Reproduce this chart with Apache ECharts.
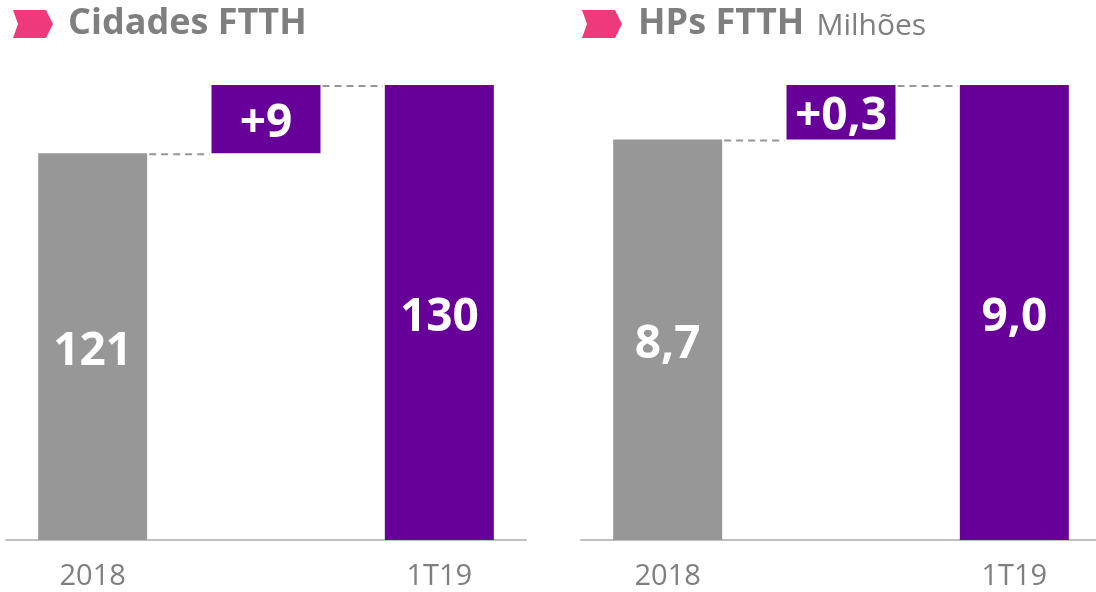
<!DOCTYPE html>
<html>
<head>
<meta charset="utf-8">
<script src="https://cdn.jsdelivr.net/npm/echarts@6/dist/echarts.min.js"></script>
<style>
html,body{margin:0;padding:0;background:#fff;}
#c{width:1096px;height:592px;}
</style>
</head>
<body>
<div id="c"></div>
<script>
// ---- data ----
const categories = ['2018', '', '1T19'];
const leftTitle = 'Cidades FTTH';
const leftValues = [121, 9, 130];      // start, delta, end
const rightTitle = 'HPs FTTH';
const rightUnit = 'Milhões';
const rightValues = [8.7, 0.3, 9.0];   // start, delta, end

const GRAY = '#979797', PURPLE = '#660099', PINK = '#EE3A7B', TEXT = '#7F7F7F';
const FONT = '"Open Sans", "Noto Sans", sans-serif';
const BAR_W = 109;

function fmt(v, dec) { return v.toFixed(dec).replace('.', ','); }

function buildSeries(idx, vals, dec) {
  const [start, delta, end] = vals;
  return [
    {
      type: 'bar', xAxisIndex: idx, yAxisIndex: idx, stack: 'w' + idx,
      barWidth: BAR_W, silent: true,
      data: ['-', start, '-'],
      itemStyle: { color: 'transparent' }
    },
    {
      type: 'bar', xAxisIndex: idx, yAxisIndex: idx, stack: 'w' + idx,
      barWidth: BAR_W, z: 3,
      data: [
        { value: start, itemStyle: { color: GRAY } },
        { value: delta, itemStyle: { color: PURPLE } },
        { value: end, itemStyle: { color: PURPLE } }
      ],
      label: {
        show: true, position: 'inside', color: '#fff', fontFamily: FONT,
        fontWeight: 'bold', fontSize: 46, offset: [0, 5],
        formatter: p => (p.dataIndex === 1 ? '+' : '') + fmt(p.value, dec)
      }
    },
    {
      // dashed connectors between consecutive bars
      type: 'custom', xAxisIndex: idx, yAxisIndex: idx, silent: true, z: 4,
      data: [[0, start], [1, end]],
      renderItem: (params, api) => {
        const i = api.value(0), v = api.value(1);
        const p1 = api.coord([i, v]);
        const p2 = api.coord([i + 1, v]);
        return {
          type: 'line',
          shape: { x1: p1[0] + BAR_W / 2 + 2, y1: p1[1] + 1, x2: p2[0] - BAR_W / 2 - 2, y2: p2[1] + 1 },
          style: { stroke: '#969696', lineWidth: 2, lineDash: [7, 5] }
        };
      }
    }
  ];
}

function xAxis(idx) {
  return {
    type: 'category', gridIndex: idx, data: categories,
    axisTick: { show: false },
    axisLine: { lineStyle: { color: '#BFBFBF', width: 2 } },
    axisLabel: { color: TEXT, fontFamily: FONT, fontSize: 29, margin: 22, interval: 0 }
  };
}
function yAxis(idx, min, max) {
  return { type: 'value', gridIndex: idx, min: min, max: max, show: false, splitLine: { show: false } };
}

function chevron(x, y) {
  return {
    type: 'polygon',
    shape: { points: [[x, y], [x + 33, y], [x + 40, y + 14], [x + 33, y + 28], [x, y + 28], [x + 5, y + 14]] },
    style: { fill: PINK }
  };
}

const chart = echarts.init(document.getElementById('c'), null, { renderer: 'canvas' });
chart.setOption({
  animation: false,
  backgroundColor: '#fff',
  grid: [
    { left: 6, width: 520, top: 85, bottom: 52, outerBoundsMode: 'none' },
    { left: 581, width: 520, top: 85, bottom: 52, outerBoundsMode: 'none' }
  ],
  xAxis: [xAxis(0), xAxis(1)],
  yAxis: [yAxis(0, 70, 130), yAxis(1, 6.5, 9.0)],
  series: [...buildSeries(0, leftValues, 0), ...buildSeries(1, rightValues, 1)],
  graphic: [
    chevron(13, 10),
    { type: 'text', left: 68, top: 6, style: { text: leftTitle, fill: TEXT, font: 'bold 36px ' + FONT } },
    chevron(582, 10),
    { type: 'text', left: 638, top: 6, style: {
        rich: {
          b: { fill: TEXT, fontFamily: FONT, fontWeight: 'bold', fontSize: 36 },
          r: { fill: TEXT, fontFamily: FONT, fontSize: 30, padding: [4, 0, 0, 12] }
        },
        text: '{b|' + rightTitle + '}{r|' + rightUnit + '}'
      } }
  ]
});
</script>
</body>
</html>
